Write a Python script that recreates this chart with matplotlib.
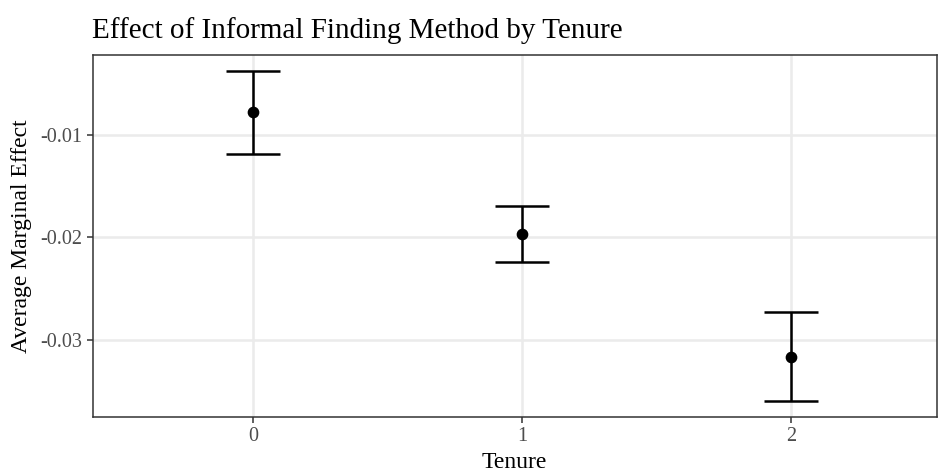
import matplotlib
matplotlib.use("Agg")
import matplotlib.pyplot as plt

# average marginal effect of informal finding method, by tenure
tenure = [0, 1, 2]
ame = [-0.00781, -0.01972, -0.03166]
ci_low = [-0.01191, -0.02239, -0.03598]
ci_high = [-0.00376, -0.01699, -0.02727]
y_ticks = [-0.03, -0.02, -0.01]
y_tick_labels = ["-0.03", "-0.02", "-0.01"]

plt.rcParams["font.family"] = ["Liberation Serif", "DejaVu Serif"]

fig = plt.figure(figsize=(9.39, 4.70), dpi=100)
ax = fig.add_axes([92.5 / 939, 1 - 416.7 / 470, (937 - 92.5) / 939, (416.7 - 54.7) / 470])

for x, lo, hi in zip(tenure, ci_low, ci_high):
    ax.plot([x, x], [lo, hi], color="black", lw=1.8, solid_capstyle="butt", zorder=3)
    ax.plot([x - 0.1, x + 0.1], [lo, lo], color="black", lw=1.8, solid_capstyle="butt", zorder=3)
    ax.plot([x - 0.1, x + 0.1], [hi, hi], color="black", lw=1.8, solid_capstyle="butt", zorder=3)
ax.scatter(tenure, ame, s=55, color="black", zorder=4)

ax.set_xlim(-0.597, 2.542)
ax.set_ylim(-0.03751, -0.00220)
ax.set_xticks(tenure)
ax.set_xticklabels([str(t) for t in tenure])
ax.set_yticks(y_ticks)
ax.set_yticklabels(y_tick_labels)

ax.grid(True, color="#ebebeb", lw=1.8)
ax.set_axisbelow(True)
for s in ax.spines.values():
    s.set_color("#333333")
    s.set_linewidth(1.1)
ax.tick_params(axis="both", colors="#333333", length=4, width=1.1, labelsize=14.5, labelcolor="#4d4d4d")

ax.set_xlabel("Tenure", fontsize=17, labelpad=4)
ax.set_ylabel("Average Marginal Effect", fontsize=17, labelpad=6)
ax.set_title("Effect of Informal Finding Method by Tenure", fontsize=21, loc="left", pad=12)

fig.savefig("out.png", dpi=100)
